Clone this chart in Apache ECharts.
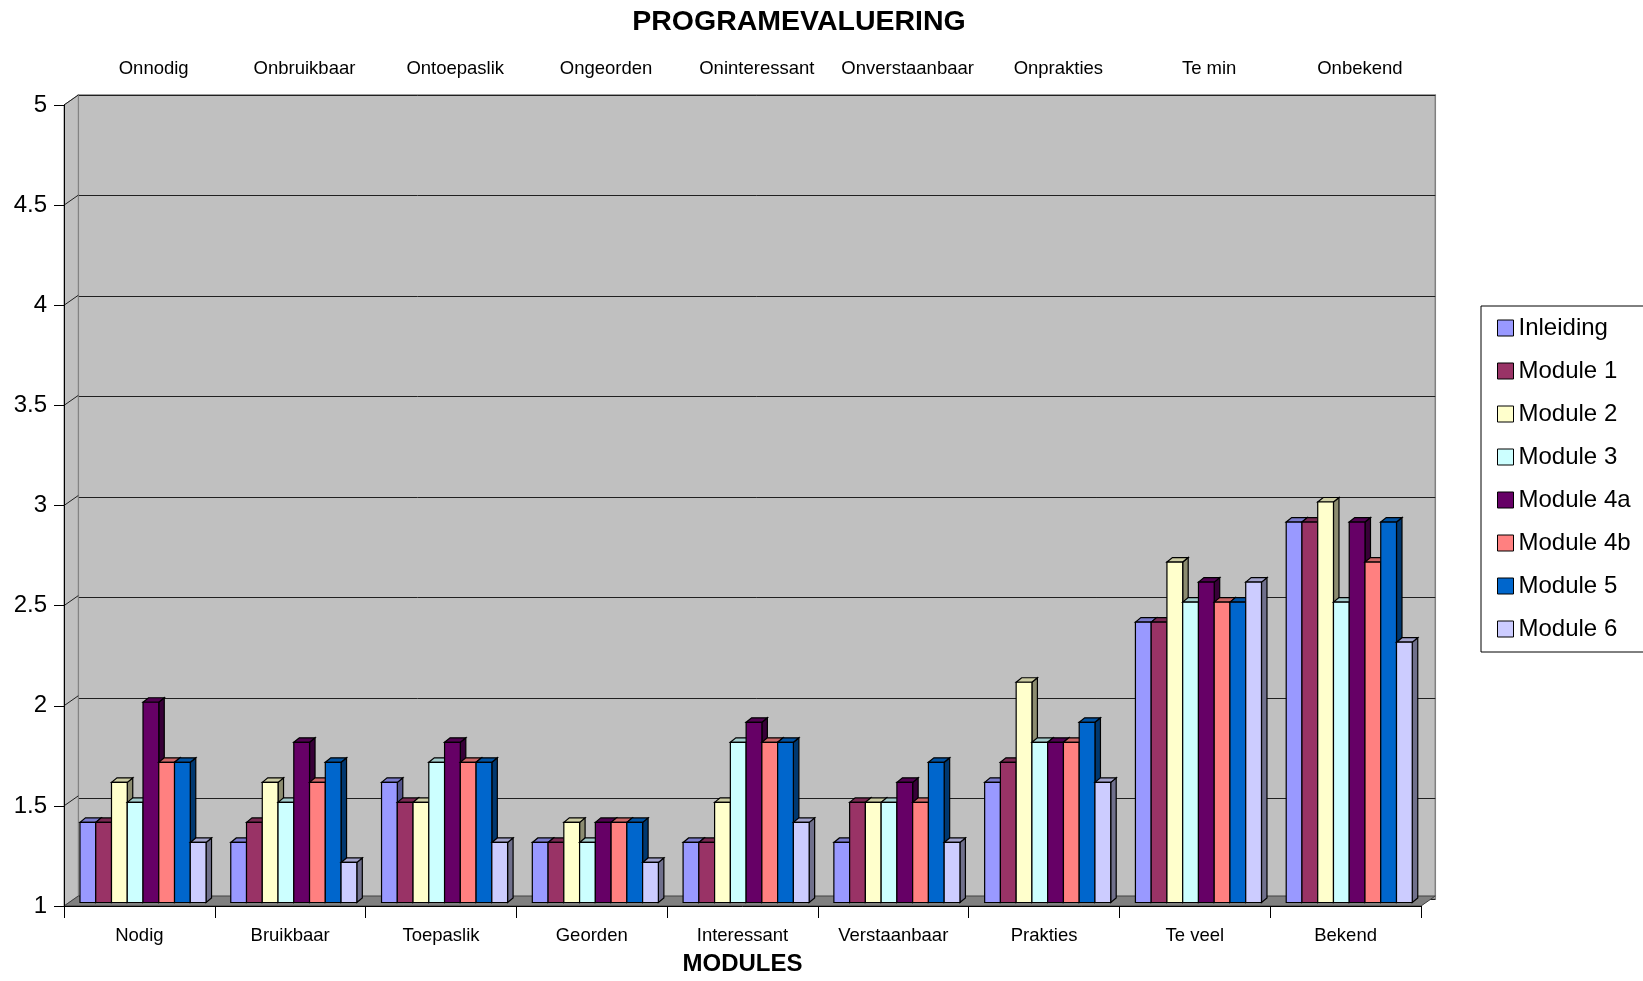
<!DOCTYPE html>
<html>
<head>
<meta charset="utf-8">
<script src="https://cdn.jsdelivr.net/npm/echarts@6/dist/echarts.min.js"></script>
<style>html,body{margin:0;padding:0;background:#fff;}#c{width:1643px;height:981px;}</style>
</head>
<body>
<div id="c"></div>
<script>
const categories = ['Nodig','Bruikbaar','Toepaslik','Georden','Interessant','Verstaanbaar','Prakties','Te veel','Bekend'];
const topLabels = ['Onnodig','Onbruikbaar','Ontoepaslik','Ongeorden','Oninteressant','Onverstaanbaar','Onprakties','Te min','Onbekend'];
const seriesNames = ['Inleiding','Module 1','Module 2','Module 3','Module 4a','Module 4b','Module 5','Module 6'];
const inleiding = [1.4, 1.3, 1.6, 1.3, 1.3, 1.3, 1.6, 2.4, 2.9];
const module1   = [1.4, 1.4, 1.5, 1.3, 1.3, 1.5, 1.7, 2.4, 2.9];
const module2   = [1.6, 1.6, 1.5, 1.4, 1.5, 1.5, 2.1, 2.7, 3.0];
const module3   = [1.5, 1.5, 1.7, 1.3, 1.8, 1.5, 1.8, 2.5, 2.5];
const module4a  = [2.0, 1.8, 1.8, 1.4, 1.9, 1.6, 1.8, 2.6, 2.9];
const module4b  = [1.7, 1.6, 1.7, 1.4, 1.8, 1.5, 1.8, 2.5, 2.7];
const module5   = [1.7, 1.7, 1.7, 1.4, 1.8, 1.7, 1.9, 2.5, 2.9];
const module6   = [1.3, 1.2, 1.3, 1.2, 1.4, 1.3, 1.6, 2.6, 2.3];
const yTicks = [1, 1.5, 2, 2.5, 3, 3.5, 4, 4.5, 5];
const seriesValues = [inleiding, module1, module2, module3, module4a, module4b, module5, module6];
const colors = ['#9999FF','#993366','#FFFFCC','#CCFFFF','#660066','#FF8080','#0066CC','#CCCCFF'];

const FONT = '"Liberation Sans", Arial, sans-serif';
// layout
const G = {left: 64, top: 105, width: 1357, height: 804};
const WDX = 14.3, WDY = -10;      // wall depth
const BDX = 5.5, BDY = -4.5;      // bar depth
const LIFT = -3.5;
const BAR_W = 0.1045, GROUP_OFF = 0.106;

function shade(hex, f) {
  const n = parseInt(hex.slice(1), 16);
  const r = Math.round(((n >> 16) & 255) * f), g = Math.round(((n >> 8) & 255) * f), b = Math.round((n & 255) * f);
  return 'rgb(' + r + ',' + g + ',' + b + ')';
}

function barRender(si) {
  return function (params, api) {
    const idx = api.value(0), val = api.value(1);
    const size = api.size([1, 0])[0];
    const c = api.coord([idx, val]);
    const b = api.coord([idx, yTicks[0]]);
    const w = size * BAR_W;
    const x0 = c[0] - size / 2 + size * GROUP_OFF + si * w;
    const yt = c[1] + LIFT, yb = b[1] + LIFT;
    const col = colors[si];
    const st = {stroke: '#000', lineWidth: 1.2, lineJoin: 'miter'};
    return {
      type: 'group',
      children: [
        {type: 'polygon', shape: {points: [[x0 + w, yt], [x0 + w + BDX, yt + BDY], [x0 + w + BDX, yb + BDY], [x0 + w, yb]]},
          style: Object.assign({fill: shade(col, 0.55)}, st)},
        {type: 'polygon', shape: {points: [[x0, yt], [x0 + BDX, yt + BDY], [x0 + w + BDX, yt + BDY], [x0 + w, yt]]},
          style: Object.assign({fill: shade(col, 0.8)}, st)},
        {type: 'rect', shape: {x: x0, y: yt, width: w, height: yb - yt},
          style: Object.assign({fill: col}, st)}
      ]
    };
  };
}

function wallRender(params, api) {
  const size = api.size([1, 0])[0];
  const n = categories.length;
  const L = api.coord([0, yTicks[0]])[0] - size / 2;
  const R = api.coord([n - 1, yTicks[0]])[0] + size / 2;
  const B = api.coord([0, yTicks[0]])[1];
  const T = api.coord([0, yTicks[yTicks.length - 1]])[1];
  const children = [
    {type: 'polygon', shape: {points: [[L, T], [L + WDX, T + WDY], [L + WDX, B + WDY], [L, B]]},
      style: {fill: '#C0C0C0', stroke: '#808080', lineWidth: 1}},
    {type: 'polygon', shape: {points: [[L, B], [L + WDX, B + WDY], [R + WDX, B + WDY], [R, B]]},
      style: {fill: '#808080', stroke: '#404040', lineWidth: 1}}
  ];
  yTicks.forEach(function (v) {
    const y = api.coord([0, v])[1];
    if (v !== yTicks[0]) {
      children.push({type: 'line', shape: {x1: L, y1: y, x2: L + WDX, y2: y + WDY}, style: {stroke: '#202020', lineWidth: 1}});
    }
  });
  return {type: 'group', children: children};
}

const series = seriesNames.map(function (name, si) {
  return {
    name: name,
    type: 'custom',
    xAxisIndex: 0, yAxisIndex: 0,
    z: 2,
    clip: false,
    itemStyle: {color: colors[si]},
    renderItem: barRender(si),
    encode: {x: 0, y: 1},
    data: seriesValues[si].map(function (v, i) { return [i, v]; })
  };
});
series.push({
  name: 'walls',
  type: 'custom',
  xAxisIndex: 0, yAxisIndex: 0,
  z: 1,
  clip: false,
  silent: true,
  itemStyle: {color: '#808080'},
  renderItem: wallRender,
  encode: {x: 0, y: 1},
  data: [[0, yTicks[0]]]
});

const chart = echarts.init(document.getElementById('c'), null, {renderer: 'canvas'});
chart.setOption({
  animation: false,
  backgroundColor: '#fff',
  title: {
    text: 'PROGRAMEVALUERING', left: 799, top: 8, textAlign: 'center', padding: 0,
    textStyle: {fontFamily: FONT, fontSize: 28.5, fontWeight: 'bold', color: '#000'}
  },
  legend: {
    orient: 'vertical', left: 1481, top: 306,
    padding: [10, 40, 11, 16],
    itemGap: 19, itemWidth: 16, itemHeight: 16,
    icon: 'rect',
    backgroundColor: '#fff', borderColor: '#000', borderWidth: 1,
    itemStyle: {borderColor: '#000', borderWidth: 1},
    textStyle: {fontFamily: FONT, fontSize: 24, color: '#000', lineHeight: 24},
    data: seriesNames
  },
  grid: [
    {left: G.left, top: G.top, width: G.width, height: G.height, show: false},
    {left: G.left + WDX, top: G.top + WDY, width: G.width, height: G.height, show: true,
      backgroundColor: '#C0C0C0', borderColor: '#808080', borderWidth: 1.5}
  ],
  xAxis: [
    {
      type: 'category', gridIndex: 0, position: 'bottom', data: categories, z: 3,
      boundaryGap: true,
      axisLine: {show: true, lineStyle: {color: '#000', width: 1}},
      axisTick: {show: true, length: 12, lineStyle: {color: '#000', width: 1}},
      axisLabel: {margin: 20, fontFamily: FONT, fontSize: 18.5, color: '#000', interval: 0},
      name: 'MODULES', nameLocation: 'middle', nameGap: 46,
      nameTextStyle: {fontFamily: FONT, fontSize: 24, fontWeight: 'bold', color: '#000'},
      splitLine: {show: false}
    },
    {
      type: 'category', gridIndex: 1, position: 'top', data: topLabels,
      boundaryGap: true,
      axisLine: {show: false}, axisTick: {show: false},
      axisLabel: {margin: 17, fontFamily: FONT, fontSize: 18.5, color: '#000', interval: 0},
      splitLine: {show: false}
    }
  ],
  yAxis: [
    {
      type: 'value', gridIndex: 0, min: yTicks[0], max: yTicks[yTicks.length - 1], interval: yTicks[1] - yTicks[0], z: 3,
      axisLine: {show: true, lineStyle: {color: '#000', width: 1}},
      axisTick: {show: true, length: 10, lineStyle: {color: '#000', width: 1}},
      axisLabel: {margin: 17, fontFamily: FONT, fontSize: 24, color: '#000'},
      splitLine: {show: false}
    },
    {
      type: 'value', gridIndex: 1, min: yTicks[0], max: yTicks[yTicks.length - 1], interval: yTicks[1] - yTicks[0],
      axisLine: {show: false}, axisTick: {show: false}, axisLabel: {show: false},
      splitLine: {show: true, lineStyle: {color: '#202020', width: 1}}
    }
  ],
  series: series
});
</script>
</body>
</html>
